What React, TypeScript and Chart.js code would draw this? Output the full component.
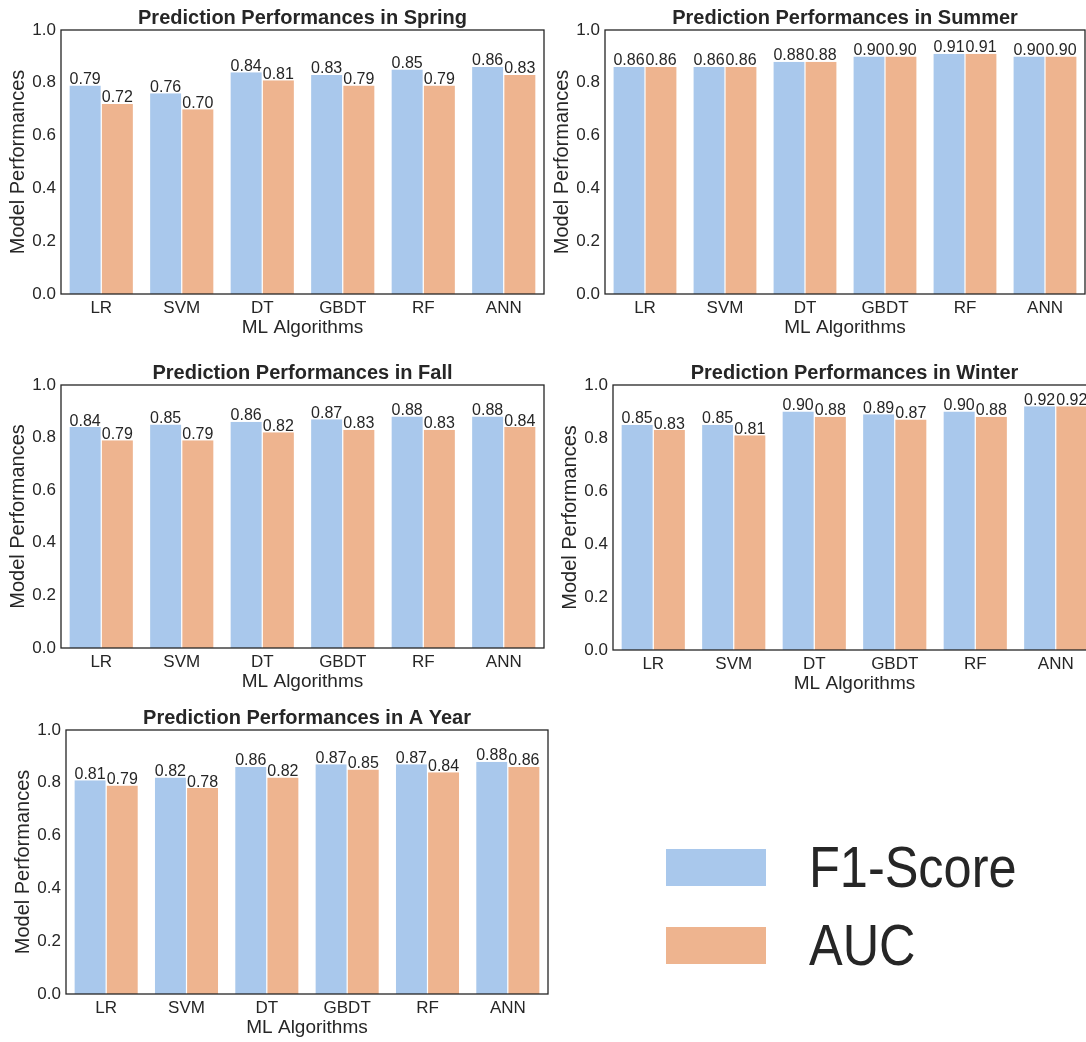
import React, { useEffect, useRef } from 'react';
import { Chart, registerables } from 'chart.js';

Chart.register(...registerables);

// ---------------- data ----------------
const algorithms = ['LR', 'SVM', 'DT', 'GBDT', 'RF', 'ANN'];
const seriesNames = ['F1-Score', 'AUC'];
const yTickValues = [0, 0.2, 0.4, 0.6, 0.8, 1.0];

const springF1 = [0.79, 0.76, 0.84, 0.83, 0.85, 0.86];
const springAUC = [0.72, 0.7, 0.81, 0.79, 0.79, 0.83];
const summerF1 = [0.86, 0.86, 0.88, 0.9, 0.91, 0.9];
const summerAUC = [0.86, 0.86, 0.88, 0.9, 0.91, 0.9];
const fallF1 = [0.84, 0.85, 0.86, 0.87, 0.88, 0.88];
const fallAUC = [0.79, 0.79, 0.82, 0.83, 0.83, 0.84];
const winterF1 = [0.85, 0.85, 0.9, 0.89, 0.9, 0.92];
const winterAUC = [0.83, 0.81, 0.88, 0.87, 0.88, 0.92];
const yearF1 = [0.81, 0.82, 0.86, 0.87, 0.87, 0.88];
const yearAUC = [0.79, 0.78, 0.82, 0.85, 0.84, 0.86];

const titleSpring = 'Prediction Performances in Spring';
const titleSummer = 'Prediction Performances in Summer';
const titleFall = 'Prediction Performances in Fall';
const titleWinter = 'Prediction Performances in Winter';
const titleYear = 'Prediction Performances in A Year';
const xAxisTitle = 'ML Algorithms';
const yAxisTitle = 'Model Performances';

// ---------------- style ----------------
const BLUE = '#a9c8ec';
const ORANGE = '#eeb48f';
const INK = '#262626';
const FONT = '"Liberation Sans", Arial, Helvetica, sans-serif';

const LEFT_SPACE = 60;
const TOP_SPACE = 30;
const BOTTOM_SPACE = 52;
const RIGHT_SPACE = 4;

const frameAndLabels = {
  id: 'frameAndLabels',
  afterDatasetsDraw(chart: any) {
    const ctx = chart.ctx;
    ctx.save();
    ctx.fillStyle = INK;
    ctx.font = `16px ${FONT}`;
    ctx.textAlign = 'center';
    ctx.textBaseline = 'alphabetic';
    chart.data.datasets.forEach((ds: any, i: number) => {
      const meta = chart.getDatasetMeta(i);
      meta.data.forEach((el: any, j: number) => {
        ctx.fillText(Number(ds.data[j]).toFixed(2), el.x, el.y - 1.5);
      });
    });
    ctx.restore();
  },
  afterDraw(chart: any) {
    const { ctx, chartArea } = chart;
    ctx.save();
    ctx.strokeStyle = INK;
    ctx.lineWidth = 1.3;
    ctx.strokeRect(chartArea.left, chartArea.top, chartArea.right - chartArea.left, chartArea.bottom - chartArea.top);
    ctx.restore();
  },
};

type PanelProps = { title: string; f1: number[]; auc: number[]; l: number; t: number; w: number; h: number };

function Panel({ title, f1, auc, l, t, w, h }: PanelProps) {
  const ref = useRef<HTMLCanvasElement>(null);
  const cw = w + LEFT_SPACE + RIGHT_SPACE;
  const chh = h + TOP_SPACE + BOTTOM_SPACE;

  useEffect(() => {
    if (!ref.current) return;
    const chart = new Chart(ref.current, {
      type: 'bar',
      data: {
        labels: algorithms,
        datasets: [
          {
            label: seriesNames[0],
            data: f1,
            backgroundColor: BLUE,
            borderColor: '#ffffff',
            borderWidth: { top: 0, bottom: 0, left: 0.6, right: 0.6 },
            categoryPercentage: 0.8,
            barPercentage: 1.0,
          },
          {
            label: seriesNames[1],
            data: auc,
            backgroundColor: ORANGE,
            borderColor: '#ffffff',
            borderWidth: { top: 0, bottom: 0, left: 0.6, right: 0.6 },
            categoryPercentage: 0.8,
            barPercentage: 1.0,
          },
        ],
      },
      options: {
        responsive: false,
        animation: false,
        events: [],
        devicePixelRatio: 1,
        layout: { padding: { left: 0, right: RIGHT_SPACE, top: 0, bottom: 0 } },
        plugins: {
          legend: { display: false },
          tooltip: { enabled: false },
          title: {
            display: true,
            text: title,
            color: INK,
            fullSize: false,
            font: { family: FONT, size: 20, weight: 'bold', lineHeight: 1 },
            padding: { top: 8, bottom: 2 },
          },
        },
        scales: {
          x: {
            grid: { display: false, drawTicks: false },
            border: { display: false },
            ticks: { color: INK, font: { family: FONT, size: 17 }, padding: 4.5, maxRotation: 0 },
            title: {
              display: true,
              text: xAxisTitle,
              color: INK,
              font: { family: FONT, size: 19, lineHeight: 1 },
              padding: { top: 0, bottom: 8.5 },
            },
            afterFit: (scale: any) => {
              scale.height = BOTTOM_SPACE;
            },
          },
          y: {
            min: 0,
            max: 1,
            grid: { display: false, drawTicks: false },
            border: { display: false },
            afterBuildTicks: (scale: any) => {
              scale.ticks = yTickValues.map((v) => ({ value: v }));
            },
            ticks: {
              color: INK,
              font: { family: FONT, size: 17 },
              padding: 5,
              callback: (v: any) => Number(v).toFixed(1),
            },
            title: {
              display: true,
              text: yAxisTitle,
              color: INK,
              font: { family: FONT, size: 20, lineHeight: 1 },
              padding: { top: 7.5, bottom: 0 },
            },
            afterFit: (scale: any) => {
              scale.width = LEFT_SPACE;
            },
          },
        },
      },
      plugins: [frameAndLabels],
    } as any);
    return () => chart.destroy();
  }, []);

  return (
    <canvas
      ref={ref}
      width={cw}
      height={chh}
      style={{ position: 'absolute', left: l - LEFT_SPACE, top: t - TOP_SPACE, width: cw, height: chh }}
    />
  );
}

function Legend() {
  const items = [
    { name: seriesNames[0], color: BLUE, top: 849 },
    { name: seriesNames[1], color: ORANGE, top: 927 },
  ];
  return (
    <>
      {items.map((it) => (
        <React.Fragment key={it.name}>
          <div style={{ position: 'absolute', left: 666, top: it.top, width: 100, height: 37, background: it.color }} />
          <div
            style={{
              position: 'absolute',
              left: 809,
              top: it.top - 11,
              fontFamily: FONT,
              fontSize: 58,
              lineHeight: '58px',
              color: INK,
              whiteSpace: 'nowrap',
              transform: 'scaleX(0.87)',
              transformOrigin: 'left center',
            }}
          >
            {it.name}
          </div>
        </React.Fragment>
      ))}
    </>
  );
}

export default function App() {
  return (
    <div
      style={{
        position: 'absolute',
        left: 0,
        top: 0,
        width: 1086,
        height: 1042,
        overflow: 'hidden',
        background: '#ffffff',
      }}
    >
      <Panel title={titleSpring} f1={springF1} auc={springAUC} l={61} t={30} w={483} h={264} />
      <Panel title={titleSummer} f1={summerF1} auc={summerAUC} l={605} t={30} w={480} h={264} />
      <Panel title={titleFall} f1={fallF1} auc={fallAUC} l={61} t={385} w={483} h={263} />
      <Panel title={titleWinter} f1={winterF1} auc={winterAUC} l={613} t={385} w={483} h={265} />
      <Panel title={titleYear} f1={yearF1} auc={yearAUC} l={66} t={730} w={482} h={264} />
      <Legend />
    </div>
  );
}
